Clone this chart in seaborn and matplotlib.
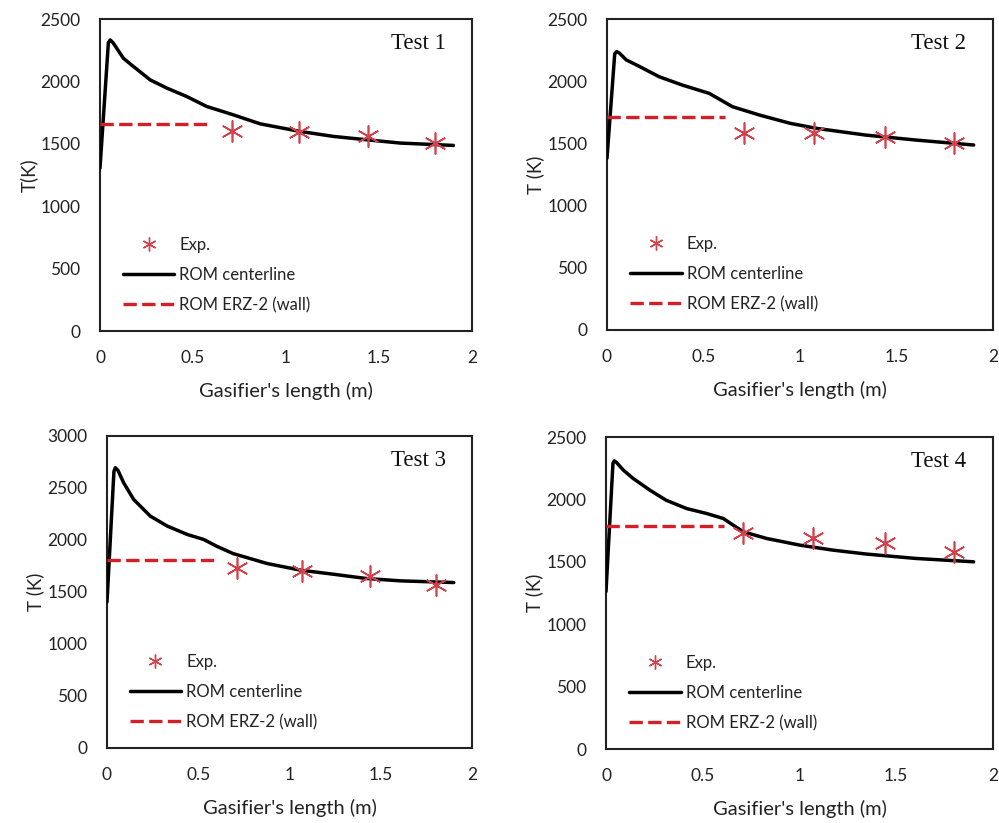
import matplotlib
matplotlib.use("Agg")
import matplotlib.pyplot as plt
import seaborn as sns
import pandas as pd
from matplotlib.lines import Line2D

sns.set_theme(style="white")
plt.rcParams['font.family'] = ['Lato', 'DejaVu Sans']

# ---------------- data ----------------
exp_x = [0.71, 1.07, 1.44, 1.80]

t1_x = [0, 0.045, 0.055, 0.07, 0.126, 0.18, 0.27, 0.36, 0.466, 0.574, 0.717, 0.861, 1.076, 1.256, 1.435, 1.614, 1.90]
t1_T = [1306, 2310, 2332, 2310, 2185, 2119, 2012, 1946, 1879, 1799, 1732, 1660, 1599, 1559, 1532, 1506, 1487]
t1_exp = [1599, 1591, 1564, 1506]
t1_wall_x = [0, 0.59]
t1_wall_T = [1658, 1658]

t2_x = [0, 0.04, 0.05, 0.065, 0.1, 0.17, 0.27, 0.39, 0.53, 0.65, 0.79, 0.95, 1.085, 1.34, 1.60, 1.90]
t2_T = [1381, 2220, 2238, 2225, 2171, 2117, 2036, 1969, 1902, 1795, 1728, 1661, 1621, 1567, 1527, 1487]
t2_exp = [1581, 1587, 1555, 1501]
t2_wall_x = [0, 0.61]
t2_wall_T = [1709, 1709]

t3_x = [0, 0.038, 0.046, 0.06, 0.091, 0.146, 0.237, 0.33, 0.44, 0.53, 0.60, 0.69, 0.877, 1.06, 1.24, 1.42, 1.61, 1.90]
t3_T = [1405, 2660, 2695, 2670, 2551, 2390, 2230, 2134, 2053, 2005, 1941, 1870, 1774, 1710, 1671, 1630, 1607, 1591]
t3_exp = [1726, 1704, 1656, 1572]
t3_wall_x = [0, 0.59]
t3_wall_T = [1806, 1806]

t4_x = [0, 0.036, 0.043, 0.055, 0.09, 0.14, 0.227, 0.31, 0.416, 0.52, 0.606, 0.657, 0.71, 0.83, 1.0, 1.17, 1.346, 1.60, 1.90]
t4_T = [1262, 2290, 2309, 2295, 2234, 2168, 2074, 1994, 1927, 1887, 1847, 1794, 1740, 1687, 1634, 1594, 1562, 1527, 1500]
t4_exp = [1727, 1692, 1647, 1580]
t4_wall_x = [0, 0.61]
t4_wall_T = [1783, 1783]

titles = ["Test 1", "Test 2", "Test 3", "Test 4"]
ylabels = ["T(K)", "T (K)", "T (K)", "T (K)"]
ymax = [2500, 2500, 3000, 2500]
xticks = [0, 0.5, 1, 1.5, 2]
xticklabels = ["0", "0.5", "1", "1.5", "2"]
legend_labels = ["Exp.", "ROM centerline", "ROM ERZ-2 (wall)"]

panels = [
    (t1_x, t1_T, t1_exp, t1_wall_x, t1_wall_T),
    (t2_x, t2_T, t2_exp, t2_wall_x, t2_wall_T),
    (t3_x, t3_T, t3_exp, t3_wall_x, t3_wall_T),
    (t4_x, t4_T, t4_exp, t4_wall_x, t4_wall_T),
]

# ---------------- layout ----------------
W, H = 999, 823
fig = plt.figure(figsize=(W / 100, H / 100), dpi=100)
boxes = [(100, 472, 19, 331), (607, 993, 19, 330), (107, 472, 436, 748), (606, 993, 437, 749)]

RED_LINE = "#d41f26"
RED_MK = "#d2424c"
tick_fs = 12.5

for i, (box, data) in enumerate(zip(boxes, panels)):
    l, r, t, b = box
    ax = fig.add_axes([l / W, 1 - b / H, (r - l) / W, (b - t) / H])
    cx, cT, eT, wx, wT = data
    sns.scatterplot(x=exp_x, y=eT, ax=ax, marker=(6, 2, 0), s=230, color=RED_MK,
                    linewidth=1.2, edgecolor=RED_MK, zorder=4)
    sns.lineplot(x=cx, y=cT, ax=ax, color="black", linewidth=2.5, sort=False,
                 estimator=None, zorder=3)
    sns.lineplot(x=wx, y=wT, ax=ax, color=RED_LINE, linewidth=2.4, sort=False,
                 estimator=None, zorder=3, dashes=False)
    ax.lines[-1].set_dashes((4.0, 1.6))

    ax.set_xlim(0, 2)
    ax.set_ylim(0, ymax[i])
    ax.set_xticks(xticks)
    ax.set_xticklabels(xticklabels)
    ax.set_yticks(list(range(0, ymax[i] + 1, 500)))
    ax.tick_params(axis='both', length=0, labelsize=tick_fs, pad=14, colors="#222222")
    ax.set_xlabel("Gasifier's length (m)", fontsize=14.5, color="#222222", labelpad=11)
    ax.set_ylabel(ylabels[i], fontsize=13.5, color="#222222", labelpad=2)
    for sp in ax.spines.values():
        sp.set_color("#222222")
        sp.set_linewidth(1.5)
        sp.set_visible(True)
    ax.text(0.93, 0.92, titles[i], transform=ax.transAxes, ha="right", va="center",
            fontsize=16.5, family="Liberation Serif", color="#111111")

    handles = [
        Line2D([], [], linestyle="none", marker=(6, 2, 0), markersize=10,
               markeredgewidth=1.0, color=RED_MK),
        Line2D([], [], color="black", linewidth=2.5),
        Line2D([], [], color=RED_LINE, linewidth=2.4, dashes=(4.0, 1.6)),
    ]
    ax.legend(handles, legend_labels, loc="lower left", bbox_to_anchor=(0.03, 0.02),
              frameon=False, fontsize=12, handlelength=3.1, handletextpad=0.3,
              labelspacing=0.85, borderpad=0.2, labelcolor="#222222")

fig.savefig("out.png", dpi=100)
